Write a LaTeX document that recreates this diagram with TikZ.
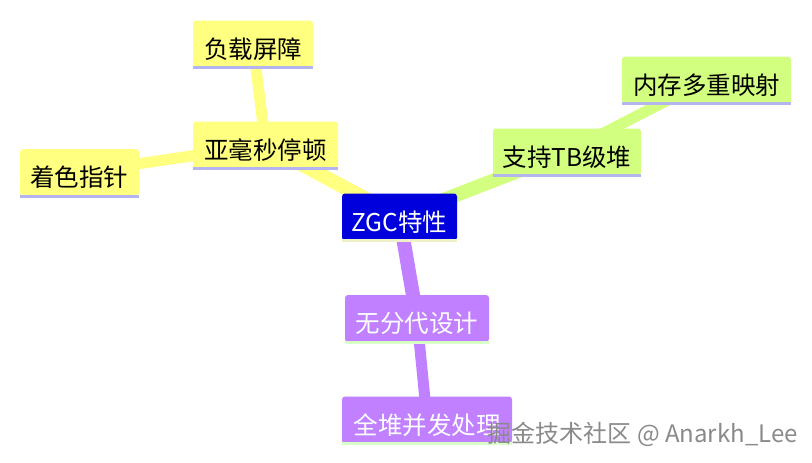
\documentclass[tikz,border=0pt]{standalone}
\usepackage{fontspec}
\setmainfont{Noto Sans CJK SC}
\usetikzlibrary{backgrounds}
\definecolor{myyellow}{HTML}{FFFF80}
\definecolor{mygreen}{HTML}{D2FF80}
\definecolor{mypurple}{HTML}{C080FF}
\definecolor{myblue}{HTML}{0000DD}
\definecolor{lav}{HTML}{B4B4F0}
\definecolor{lgreen}{HTML}{D8FFC8}
\definecolor{lyel}{HTML}{F0F0C8}
\definecolor{wmgray}{HTML}{8A8A8A}
\tikzset{
  mm/.style={rectangle, rounded corners=3pt, minimum height=47pt, inner xsep=0pt, inner ysep=0pt,
    text height=28pt, text depth=0pt, font=\fontsize{24.5}{28}\selectfont},
  ynode/.style={mm, fill=myyellow, text=black},
  gnode/.style={mm, fill=mygreen, text=black},
  pnode/.style={mm, fill=mypurple, text=white},
  cnode/.style={mm, fill=myblue, text=white},
  ylink/.style={draw=myyellow},
  glink/.style={draw=mygreen},
  plink/.style={draw=mypurple},
  mainlink/.style={line width=14pt},
  sublink/.style={line width=11pt},
  uline/.style={line width=3pt},
  wm/.style={font=\fontsize{24}{28}\selectfont, text=wmgray, anchor=east, inner sep=0pt},
}
\begin{document}
\begin{tikzpicture}[x=1pt,y=-1pt]
\useasboundingbox (0,0) rectangle (812,463);
% nodes
\node[cnode, minimum width=115pt] (zgc) at (399.5,217) {ZGC特性};
\node[ynode, minimum width=145pt] (ymh) at (265.5,145) {亚毫秒停顿};
\node[ynode, minimum width=120pt] (fz) at (253,44) {负载屏障};
\node[ynode, minimum width=119pt] (zs) at (79.5,172.5) {着色指针};
\node[gnode, minimum width=148pt] (tb) at (567,152) {支持TB级堆};
\node[gnode, minimum width=169pt] (nc) at (706.5,80) {内存多重映射};
\node[pnode, minimum width=144pt] (wfd) at (417,318.5) {无分代设计};
\node[pnode, minimum width=170pt] (qd) at (427,420) {全堆并发处理};
% underlines
\draw[uline, lav] (fz.south west) -- (fz.south east);
\draw[uline, lav] (ymh.south west) -- (ymh.south east);
\draw[uline, lav] (zs.south west) -- (zs.south east);
\draw[uline, lav] (tb.south west) -- (tb.south east);
\draw[uline, lav] (nc.south west) -- (nc.south east);
\draw[uline, lgreen] (wfd.south west) -- (wfd.south east);
\draw[uline, lgreen] (qd.south west) -- (qd.south east);
\draw[uline, lyel] (zgc.south west) -- (zgc.south east);
% watermark
\node[wm] (wmk) at (798,434) {掘金技术社区 @ Anarkh\_Lee};
% connectors (behind nodes)
\begin{scope}[on background layer]
\fill[white] (0,0) rectangle (812,463);
\draw[ylink, mainlink] (zgc.center) -- (ymh.center);
\draw[glink, mainlink] (zgc.center) -- (tb.center);
\draw[plink, mainlink] (zgc.center) -- (wfd.center);
\draw[ylink, sublink] (ymh.center) -- (fz.center);
\draw[ylink, sublink] (ymh.center) -- (zs.center);
\draw[glink, sublink] (tb.center) -- (nc.center);
\draw[plink, sublink] (wfd.center) -- (qd.center);
\end{scope}
\end{tikzpicture}
\end{document}
